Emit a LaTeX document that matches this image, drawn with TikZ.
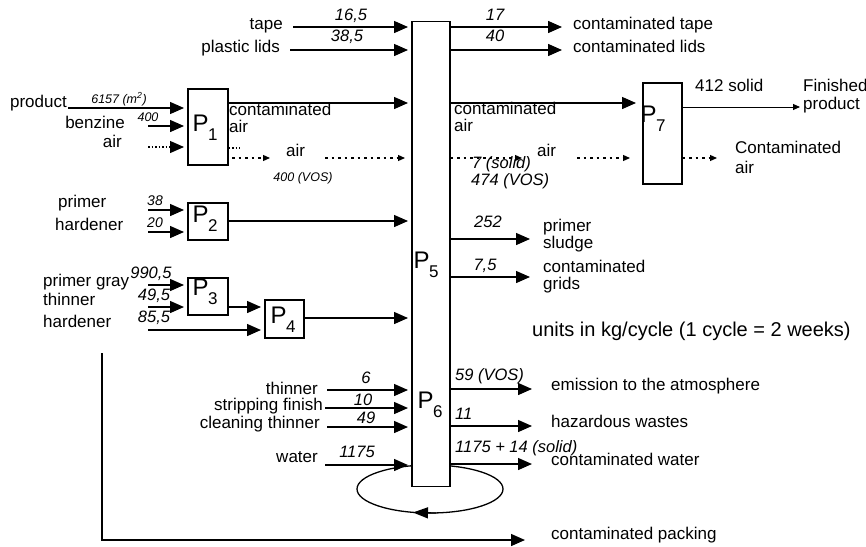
\documentclass[tikz,border=0pt]{standalone}
\usepackage{fontspec}
\setmainfont{Liberation Sans}
\usetikzlibrary{arrows.meta}
\newcommand\Psub[1]{P\kern-0.5pt\raisebox{-0.36em}{\fontsize{17}{17}\selectfont #1}}
\begin{document}
\begin{tikzpicture}[x=1pt,y=-1pt,
  lbl/.style={inner sep=0pt, font=\fontsize{17}{17}\selectfont},
  lw/.style={lbl, anchor=mid west},
  le/.style={lbl, anchor=mid east},
  num/.style={inner sep=0pt, font=\fontsize{16.5}{16.5}\selectfont\itshape, anchor=base},
  numw/.style={num, anchor=base west},
  mnum/.style={inner sep=0pt, font=\fontsize{14}{14}\selectfont\itshape, anchor=base},
  snum/.style={inner sep=0pt, font=\fontsize{12.5}{12.5}\selectfont\itshape, anchor=base},
  pbox/.style={draw, line width=1.6pt, fill=white, inner sep=0pt, anchor=north west},
  plab/.style={inner sep=0pt, font=\fontsize{24}{24}\selectfont},
  arr/.style={line width=1.4pt, -{Triangle[length=14pt,width=12pt]}},
  thinarr/.style={line width=0.9pt, -{Triangle[length=7pt,width=6pt]}},
  dotarr/.style={line width=1.2pt, dash pattern=on 2.5pt off 4pt, -{Triangle[length=7pt,width=6pt]}},
  dotbig/.style={line width=1.2pt, dash pattern=on 1.5pt off 2pt, -{Triangle[length=14pt,width=12pt]}},
  dotl/.style={line width=1.2pt, dash pattern=on 1.5pt off 2pt}
]
\useasboundingbox (0,0) rectangle (866,546);

% recycling loop (drawn under the big box)
\draw[line width=1.3pt] (430,489) ellipse [x radius=73, y radius=24];
\coordinate (loopA) at (436,513);
\coordinate (loopB) at (413,512.5);
\draw[line width=1.3pt, -{Triangle[length=15pt,width=11pt]}] (loopA) -- (loopB);

% boxes
\node[pbox, minimum width=38pt, minimum height=465pt] (B) at (411,20.5) {};
\node[pbox, minimum width=40pt, minimum height=76pt] (P1) at (187,88) {};
\node[pbox, minimum width=40pt, minimum height=37pt] (P2) at (187,202) {};
\node[pbox, minimum width=40pt, minimum height=37pt] (P3) at (187,277) {};
\node[pbox, minimum width=39pt, minimum height=38pt] (P4) at (264,299) {};
\node[pbox, minimum width=39pt, minimum height=101pt] (P7) at (642,82) {};
\node[plab] (P1l) at (205,128) {\Psub{1}};
\node[plab] (P2l) at (205,219) {\Psub{2}};
\node[plab] (P3l) at (205,292) {\Psub{3}};
\node[plab] (P4l) at (283,320) {\Psub{4}};
\node[plab] (P5l) at (426,265) {\Psub{5}};
\node[plab] (P6l) at (430,405) {\Psub{6}};
\node[plab] (P7l) at (653,119) {\Psub{7}};

% top inputs
\node[le] (ttape) at (283,27) {tape};
\coordinate (tapeS) at (293,27);
\draw[arr, shorten >=3pt] (tapeS) -- (tapeS -| B.west);
\node[num] (n165) at (351,20) {16,5};
\node[le] (tlids) at (280,50) {plastic lids};
\coordinate (lidsS) at (290,50);
\draw[arr, shorten >=3pt] (lidsS) -- (lidsS -| B.west);
\node[num] (n385) at (347,41) {38,5};

% top outputs
\coordinate (tapeE) at (562,27);
\draw[arr] (tapeE -| B.east) -- (tapeE);
\node[num] (n17) at (495,20) {17};
\node[lw] (otape) at (573,27) {contaminated tape};
\coordinate (lidsE) at (562,50);
\draw[arr] (lidsE -| B.east) -- (lidsE);
\node[num] (n40) at (495,41) {40};
\node[lw] (olids) at (573,50) {contaminated lids};

% P1 inputs
\node[le] (tprod) at (67,105) {product};
\coordinate (prodS) at (68,108);
\draw[arr, shorten >=3pt] (prodS) -- (prodS -| P1.west);
\node[snum] (n6157) at (119,103) {6157 (m\textsuperscript{2})};
\node[le] (tbenz) at (125,126) {benzine};
\coordinate (benzS) at (148,126);
\draw[arr, shorten >=3pt] (benzS) -- (benzS -| P1.west);
\node[snum] (n400a) at (148,121) {400};
\node[le] (tair1) at (122,145) {air};
\coordinate (air1S) at (148,147);
\draw[dotbig, shorten >=3pt] (air1S) -- (air1S -| P1.west);

% P1 outputs
\coordinate (ca1) at (300,103);
\draw[arr, shorten >=3pt] (ca1 -| P1.east) -- (ca1 -| B.west);
\node[lw] (tca1a) at (229,113) {contaminated};
\node[lw] (tca1b) at (229,130) {air};
\coordinate (dots1) at (240,148);
\draw[dotl] (dots1 -| P1.east) -- (dots1);
\coordinate (air2S) at (232,158);
\coordinate (air2E) at (270,158);
\draw[dotarr] (air2S) -- (air2E);
\node[lw] (tair2) at (286,154) {air};
\coordinate (air3S) at (325,158);
\draw[dotarr, shorten >=6pt] (air3S) -- (air3S -| B.west);
\node[snum] (n400v) at (303,181) {400 (VOS)};

% contaminated air to P7
\coordinate (ca2) at (600,103);
\draw[arr, shorten >=6pt] (ca2 -| B.east) -- (ca2 -| P7.west);
\node[lw] (tca2a) at (454,112) {contaminated};
\node[lw] (tca2b) at (454,129) {air};
\coordinate (d1E) at (522,158);
\draw[dotarr] (d1E -| B.east) -- (d1E);
\node[numw] (n7s) at (472,168) {7 (solid)};
\node[numw] (n474) at (471,185) {474 (VOS)};
\node[lw] (tair3) at (537,154) {air};
\coordinate (d2S) at (577,158);
\coordinate (d2E) at (630,158);
\draw[dotarr] (d2S) -- (d2E);

% P7 outputs
\coordinate (fpE) at (800,107);
\draw[thinarr] (fpE -| P7.east) -- (fpE);
\node[lw] (t412) at (695,89) {412 solid};
\node[lw] (tfin) at (803,89) {Finished};
\node[lw] (tfprod) at (803,107) {product};
\coordinate (caE) at (717,158);
\draw[dotarr] (caE -| P7.east) -- (caE);
\node[lw] (tcaa) at (735,151) {Contaminated};
\node[lw] (tcab) at (735,171) {air};

% P2
\node[lw] (tprim) at (58,205) {primer};
\node[lw] (thard1) at (55,228) {hardener};
\coordinate (p2a) at (148,210);
\coordinate (p2b) at (148,232);
\draw[arr, shorten >=3pt] (p2a) -- (p2a -| P2.west);
\draw[arr, shorten >=3pt] (p2b) -- (p2b -| P2.west);
\node[mnum] (n38) at (155,205) {38};
\node[mnum] (n20) at (155,227) {20};
\coordinate (p2o) at (300,221);
\draw[arr, shorten >=3pt] (p2o -| P2.east) -- (p2o -| B.west);

% P3 / P4
\node[lw] (tpg) at (43,284) {primer gray};
\node[lw] (tthin) at (43,303) {thinner};
\node[lw] (thard2) at (43,325) {hardener};
\coordinate (p3a) at (148,285);
\coordinate (p3b) at (148,307);
\draw[arr, shorten >=3pt] (p3a) -- (p3a -| P3.west);
\draw[arr, shorten >=3pt] (p3b) -- (p3b -| P3.west);
\node[num] (n990) at (151,278) {990,5};
\node[num] (n495) at (154,300) {49,5};
\node[num] (n855) at (154,322) {85,5};
\coordinate (hS) at (148,330);
\draw[arr, shorten >=3pt] (hS) -- (hS -| P4.west);
\coordinate (p34) at (245,307);
\draw[arr, shorten >=3pt] (p34 -| P3.east) -- (p34 -| P4.west);
\coordinate (p4o) at (350,318);
\draw[arr, shorten >=3pt] (p4o -| P4.east) -- (p4o -| B.west);

% P5 outputs
\coordinate (psE) at (530,239);
\draw[arr] (psE -| B.east) -- (psE);
\node[num] (n252) at (488,227) {252};
\node[lw] (tps1) at (543,229) {primer};
\node[lw] (tps2) at (543,246) {sludge};
\coordinate (cgE) at (530,277);
\draw[arr] (cgE -| B.east) -- (cgE);
\node[num] (n75) at (485,270) {7,5};
\node[lw] (tcg1) at (543,270) {contaminated};
\node[lw] (tcg2) at (543,287) {grids};

\node[lbl, font=\fontsize{20}{20}\selectfont, anchor=mid west] (units) at (532,334) {units in kg/cycle (1 cycle = 2 weeks)};

% packing
\coordinate (pk1) at (102,353);
\coordinate (pk2) at (102,540);
\coordinate (pkE) at (525,540);
\draw[arr] (pk1) -- (pk2) -- (pkE);
\node[lw] (tpk) at (551,537) {contaminated packing};

% P6 inputs
\node[le] (tth6) at (318,392) {thinner};
\node[le] (tsf) at (323,408) {stripping finish};
\node[le] (tct) at (320,426) {cleaning thinner};
\node[le] (twat) at (318,460) {water};
\coordinate (i6a) at (327,390);
\coordinate (i6b) at (325,408);
\coordinate (i6c) at (327,427);
\coordinate (i6d) at (325,465);
\draw[arr, shorten >=3pt] (i6a) -- (i6a -| B.west);
\draw[arr, shorten >=3pt] (i6b) -- (i6b -| B.west);
\draw[arr, shorten >=3pt] (i6c) -- (i6c -| B.west);
\draw[arr, shorten >=3pt] (i6d) -- (i6d -| B.west);
\node[num] (n6) at (366,383) {6};
\node[num] (n10) at (363,405) {10};
\node[num] (n49) at (366,423) {49};
\node[num] (n1175) at (357,457) {1175};

% P6 outputs
\coordinate (emE) at (532,389);
\coordinate (hzE) at (532,426);
\coordinate (cwE) at (532,464);
\draw[arr] (emE -| B.east) -- (emE);
\draw[arr] (hzE -| B.east) -- (hzE);
\draw[arr] (cwE -| B.east) -- (cwE);
\node[numw] (n59) at (455,380) {59 (VOS)};
\node[numw] (n11) at (455,419) {11};
\node[numw] (n1189) at (455,452) {1175 + 14 (solid)};
\node[lw] (tem) at (551,388) {emission to the atmosphere};
\node[lw] (thz) at (551,425) {hazardous wastes};
\node[lw] (tcw) at (551,463) {contaminated water};
\end{tikzpicture}
\end{document}
